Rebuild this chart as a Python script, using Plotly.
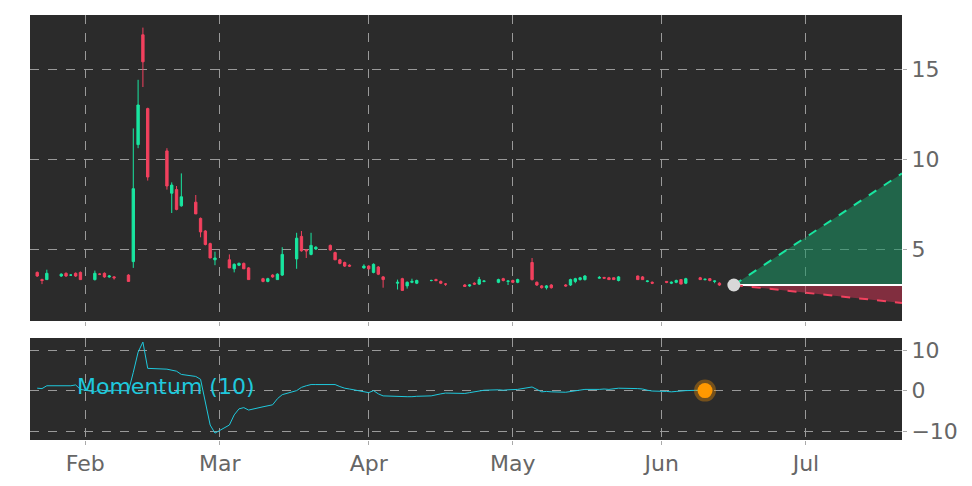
import pandas as pd
import plotly.graph_objects as go
from plotly.subplots import make_subplots

# trading days, Jan 22 - Jun 13 2025 (holidays dropped)
dates = [d for d in pd.bdate_range('2025-01-22', '2025-06-13')
         if d not in (pd.Timestamp('2025-02-17'), pd.Timestamp('2025-04-18'), pd.Timestamp('2025-05-26'))]

opens = [3.7, 3.3, 3.3, 3.5, 3.65, 3.55, 3.65, 3.7,
         3.3, 3.6, 3.65, 3.45, 3.45,
         3.55, 4.3, 10.8, 16.9, 12.8,
         10.45, 8.1, 8.3, 7.4,
         7.6, 6.7, 6.0, 5.3, 4.4,
         4.4, 3.9, 4.1, 4.2, 3.95,
         3.35, 3.2, 3.55, 3.3, 3.55,
         4.45, 5.7, 4.95, 4.7, 5.0,
         5.2, 4.8, 4.4, 4.25, 4.1,
         3.95, 4.05, 3.7, 4.0, 3.45,
         3.1, 3.35, 2.95, 3.15, 3.1,
         3.25, 3.3, 3.2, 3.05,
         3.0, 2.95, 3.1, 3.05, 3.2,
         3.15, 3.35, 3.2, 3.25, 3.15,
         4.25, 3.15, 2.95, 2.85, 3.0,
         3.0, 3.0, 3.2, 3.3, 3.3,
         3.38, 3.42, 3.4, 3.4, 3.25,
         3.5, 3.45, 3.2, 3.15,
         3.2, 3.1, 3.15, 3.3, 3.1,
         3.4, 3.3, 3.35, 3.2, 3.1]
highs = [3.75, 3.35, 3.85, 3.65, 3.7, 3.6, 3.7, 3.75,
         3.8, 3.65, 3.7, 3.55, 3.5,
         3.6, 11.7, 14.4, 17.3, 12.85,
         10.6, 8.7, 8.5, 9.2,
         8.0, 6.75, 6.05, 5.35, 4.85,
         4.7, 4.2, 4.25, 4.25, 4.0,
         3.4, 3.4, 3.6, 3.65, 5.1,
         5.9, 6.0, 5.0, 5.9, 5.15,
         5.25, 4.85, 4.45, 4.3, 4.15,
         4.15, 4.1, 4.2, 4.05, 3.5,
         3.3, 3.4, 3.2, 3.35, 3.3,
         3.3, 3.35, 3.25, 3.1,
         3.05, 3.05, 3.15, 3.45, 3.25,
         3.35, 3.4, 3.25, 3.3, 3.35,
         4.5, 3.2, 3.0, 3.0, 3.05,
         3.05, 3.35, 3.4, 3.45, 3.55,
         3.5, 3.45, 3.45, 3.42, 3.5,
         3.52, 3.5, 3.25, 3.2,
         3.22, 3.2, 3.3, 3.32, 3.4,
         3.45, 3.35, 3.38, 3.25, 3.15]
lows = [3.45, 3.05, 3.3, 3.45, 3.45, 3.5, 3.45, 3.3,
        3.25, 3.55, 3.4, 3.4, 3.3,
        3.2, 3.95, 10.6, 14.0, 8.8,
        8.3, 7.0, 7.15, 7.35,
        6.95, 5.65, 5.2, 4.5, 4.1,
        3.95, 3.7, 4.05, 3.9, 3.3,
        3.15, 3.15, 3.4, 3.3, 3.5,
        3.9, 4.85, 4.5, 4.65, 4.95,
        4.9, 4.4, 4.15, 4.0, 4.0,
        3.9, 3.85, 3.65, 3.55, 2.85,
        2.75, 2.7, 2.8, 3.1, 3.05,
        3.2, 3.2, 3.05, 2.95,
        2.9, 2.9, 3.0, 3.0, 3.15,
        3.1, 3.2, 3.0, 3.1, 3.1,
        3.25, 2.95, 2.8, 2.75, 2.8,
        2.9, 2.95, 3.1, 3.25, 3.25,
        3.35, 3.35, 3.3, 3.28, 3.2,
        3.3, 3.28, 3.15, 3.05,
        3.1, 3.05, 3.1, 3.05, 3.05,
        3.28, 3.25, 3.2, 3.1, 2.95]
closes = [3.5, 3.25, 3.65, 3.6, 3.5, 3.55, 3.5, 3.3,
          3.65, 3.6, 3.45, 3.5, 3.4,
          3.2, 8.35, 13.0, 15.4, 9.0,
          8.5, 8.55, 7.2, 7.9,
          6.95, 5.95, 5.25, 4.5, 4.5,
          3.95, 4.15, 4.2, 3.9, 3.3,
          3.2, 3.35, 3.45, 3.6, 4.7,
          5.6, 4.9, 4.9, 5.2, 5.1,
          4.95, 4.4, 4.2, 4.05, 4.05,
          4.05, 3.9, 4.15, 3.6, 3.3,
          3.15, 2.7, 3.15, 3.2, 3.25,
          3.25, 3.25, 3.1, 3.05,
          2.92, 3.0, 3.05, 3.3, 3.22,
          3.3, 3.25, 3.22, 3.15, 3.3,
          3.3, 3.0, 2.85, 2.95, 2.85,
          2.95, 3.3, 3.35, 3.4, 3.5,
          3.42, 3.38, 3.3, 3.3, 3.45,
          3.3, 3.3, 3.22, 3.1,
          3.15, 3.15, 3.25, 3.05, 3.35,
          3.3, 3.32, 3.25, 3.22, 3.0]

momentum = [0.6, 0.5, 1.2, 1.2, 1.3, 1.2, 1.4, 0.3,
            -0.3, 0.2, 0.0, -0.2, 0.1,
            -0.1, 4.5, 9.5, 12.0, 5.5,
            5.3, 5.0, 4.8, 4.0,
            3.5, 2.8, -3.0, -8.5, -10.5,
            -8.5, -6.0, -4.5, -4.2, -4.8,
            -4.0, -3.8, -3.5, -2.0, -1.0,
            0.0, 0.8, 1.2, 1.5, 1.5,
            1.6, 1.5, 1.0, 0.6, 0.4,
            -0.2, -0.5, 0.0, -0.8, -1.3,
            -1.5, -1.6, -1.5, -1.5, -1.4,
            -1.3, -1.0, -0.8, -0.6,
            -0.7, -0.5, -0.3, 0.0, 0.1,
            0.2, 0.1, 0.2, 0.2, 0.3,
            0.9, 0.2, -0.3, -0.2, -0.3,
            -0.4, -0.2, 0.0, 0.2, 0.3,
            0.3, 0.4, 0.3, 0.4, 0.6,
            0.5, 0.4, 0.1, -0.1,
            -0.2, -0.3, -0.2, -0.1, 0.0,
            0.1, 0.0]

# projection cone
proj_dates = ['2025-06-16', '2025-07-21']
proj_base = [3.0, 3.0]
proj_high = [3.0, 9.2]
proj_low = [3.0, 2.0]

fig = make_subplots(rows=2, cols=1, shared_xaxes=True, row_heights=[0.75, 0.25], vertical_spacing=0.04)

fig.add_trace(go.Candlestick(x=dates, open=opens, high=highs, low=lows, close=closes,
                             increasing=dict(line=dict(color='#19e6a0', width=1), fillcolor='#19e6a0'),
                             decreasing=dict(line=dict(color='#f2415e', width=1), fillcolor='#f2415e'),
                             whiskerwidth=0), row=1, col=1)

fig.add_trace(go.Scatter(x=proj_dates, y=proj_base, mode='lines', line=dict(color='white', width=2)), row=1, col=1)
fig.add_trace(go.Scatter(x=proj_dates, y=proj_high, mode='lines', fill='tonexty',
                         fillcolor='rgba(25,150,100,0.55)',
                         line=dict(color='#19e6a0', width=2, dash='dash')), row=1, col=1)
fig.add_trace(go.Scatter(x=proj_dates, y=proj_base, mode='lines', line=dict(color='white', width=2)), row=1, col=1)
fig.add_trace(go.Scatter(x=proj_dates, y=proj_low, mode='lines', fill='tonexty',
                         fillcolor='rgba(200,50,80,0.55)',
                         line=dict(color='#f2415e', width=2, dash='dash')), row=1, col=1)
fig.add_trace(go.Scatter(x=proj_dates[:1], y=proj_base[:1], mode='markers',
                         marker=dict(color='#d8d8d8', size=13)), row=1, col=1)

mom_dates = dates[:len(momentum)]
fig.add_trace(go.Scatter(x=mom_dates, y=momentum, mode='lines', line=dict(color='#1fc8dc', width=1)), row=2, col=1)
fig.add_trace(go.Scatter(x=mom_dates[-1:], y=momentum[-1:], mode='markers',
                         marker=dict(color='#ff9900', size=15, line=dict(color='rgba(255,153,0,0.35)', width=7))),
              row=2, col=1)

fig.add_annotation(x=0.052, y=0.125, xref='paper', yref='paper', text='Momentum (10)', showarrow=False,
                   xanchor='left', yanchor='middle', font=dict(color='#1fc8dc', size=22))

grid = dict(showgrid=True, gridcolor='#9a9a9a', griddash='dash', gridwidth=1, zeroline=False,
            tickfont=dict(size=22, color='#666'), showline=False)
fig.update_xaxes(**grid, range=['2025-01-20 12:00', '2025-07-21'], rangeslider_visible=False,
                 dtick='M1', tickformat='%b', ticks='outside', ticklen=4, tickcolor='#aaa')
fig.update_yaxes(**grid, side='right', ticks='outside', ticklen=4, tickcolor='#aaa')
fig.update_yaxes(range=[1, 18], tickvals=[5, 10, 15], row=1, col=1)
fig.update_yaxes(range=[-12.2, 13], tickvals=[-10, 0, 10], row=2, col=1)
fig.update_xaxes(showticklabels=False, row=1, col=1)

fig.update_layout(width=972, height=486, showlegend=False, paper_bgcolor='white', plot_bgcolor='#2b2b2b',
                  margin=dict(l=22, r=78, t=7, b=54, autoexpand=False), font=dict(family='DejaVu Sans'))

fig.write_html("out.html")
